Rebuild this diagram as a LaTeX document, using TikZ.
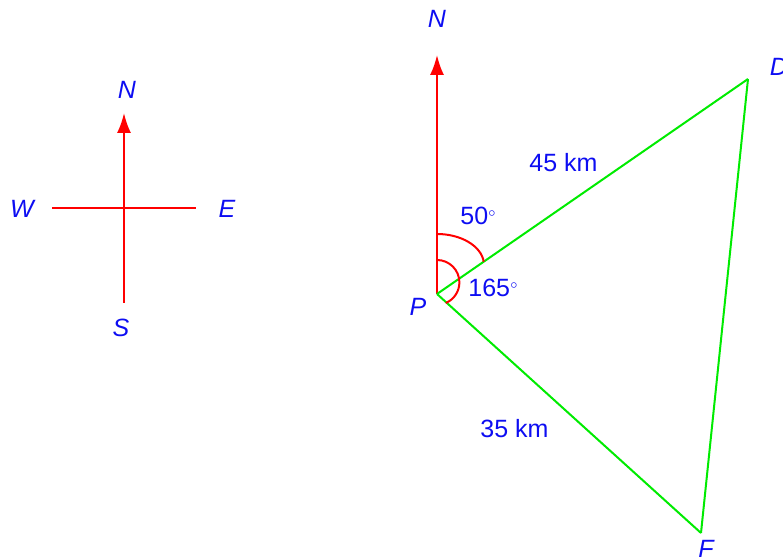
\documentclass[tikz,border=0pt]{standalone}
\usepackage{fontspec}
\setmainfont{Liberation Sans}
\usepackage{tikz}
\usetikzlibrary{arrows.meta}
\definecolor{bearred}{rgb}{1,0,0}
\definecolor{sidegreen}{rgb}{0,0.92,0}
\definecolor{textblue}{rgb}{0.05,0.05,0.95}

\begin{document}
\begin{tikzpicture}[x = 0.5pt, y = -0.5pt]
\tikzstyle{point_lbl}=[text=textblue, font=\fontsize{12.5}{15}\selectfont\itshape, inner sep=0pt]
\tikzstyle{value_lbl}=[text=textblue, font=\fontsize{12.5}{15}\selectfont, inner sep=0pt, anchor=base west]
\tikzstyle{bearing}=[draw=bearred, line width=1pt]
\tikzstyle{leg}=[draw=sidegreen, line width=1pt]
\tikzstyle{north_tip}=[-{Latex[length=10pt, width=7pt]}]

\useasboundingbox (0,0) rectangle (783,560);

% compass rose
\path (124,208) coordinate(O)
	  (124,113) coordinate(On)
	  (124,303) coordinate(Os)
	  (52,208) coordinate(Ow)
	  (196,208) coordinate(Oe)
	  (127,90) node[point_lbl](Nc) {N}
	  (121,328) node[point_lbl](Sc) {S}
	  (22,209) node[point_lbl](Wc) {W}
	  (227,209) node[point_lbl](Ec) {E};

\draw[bearing, north_tip] (Os) -- (On);
\draw[bearing] (Ow) -- (Oe);

% triangle
\path (437,294) coordinate(P)
	  (437,55) coordinate(Pn)
	  (748,79) coordinate(D)
	  (701,533) coordinate(F)
	  (437,19) node[point_lbl](Np) {N}
	  (418,307) node[point_lbl](Pl) {P}
	  (779,67) node[point_lbl](Dl) {D}
	  (706,549) node[point_lbl](Fl) {F}
	  (529,172) node[value_lbl](PD) {45 km}
	  (480,438) node[value_lbl](PF) {35 km}
	  (460,225) node[value_lbl](A50) {50$^{\scriptscriptstyle\circ}$}
	  (468,297) node[value_lbl](A165) {165$^{\scriptscriptstyle\circ}$};

\draw[bearing, north_tip] (P) -- (Pn);
\draw[leg] (P) -- (D);
\draw[leg] (D) -- (F);
\draw[leg] (F) -- (P);

\draw[bearing] (P) ++(0,-60) arc[start angle=90, end angle=6, x radius=23.5pt, y radius=15.5pt];
\draw[bearing] (P) ++(0,-34) arc[start angle=90, end angle=-67, radius=11.2pt];

\end{tikzpicture}
\end{document}
